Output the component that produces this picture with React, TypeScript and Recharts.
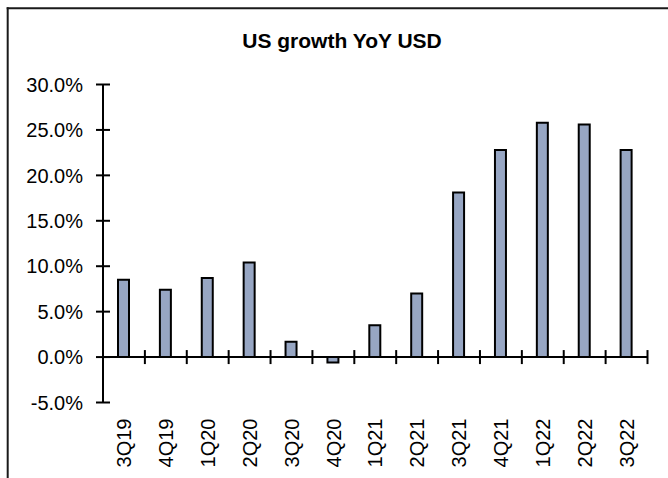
import React from 'react';
import { BarChart, Bar, XAxis, YAxis, ReferenceLine } from 'recharts';

const categories = ['3Q19', '4Q19', '1Q20', '2Q20', '3Q20', '4Q20', '1Q21', '2Q21', '3Q21', '4Q21', '1Q22', '2Q22', '3Q22'];
const growth = [8.5, 7.4, 8.7, 10.4, 1.7, -0.6, 3.5, 7.0, 18.1, 22.8, 25.8, 25.6, 22.8];
const yTicks = [-5, 0, 5, 10, 15, 20, 25, 30];
const title = 'US growth YoY USD';

const data = categories.map((q, i) => ({ q, v: growth[i] }));

const FONT = '"Liberation Sans", Arial, sans-serif';
const TICK = 7;
const MARGIN = 13;

const YTick = (props: any) => {
  const { x, y, payload } = props;
  const axisX = x + TICK + MARGIN;
  return (
    <g>
      <line x1={axisX - TICK} x2={axisX + TICK} y1={y} y2={y} stroke="#000" strokeWidth={2} />
      <text x={x} y={y} dy="0.36em" textAnchor="end" fontSize={20} fontFamily={FONT} fill="#000">
        {payload.value.toFixed(1) + '%'}
      </text>
    </g>
  );
};

const XTick = (props: any) => {
  const { x, y, payload } = props;
  return (
    <text
      x={x}
      y={y}
      dy="0.36em"
      transform={`rotate(-90, ${x}, ${y})`}
      textAnchor="end"
      fontSize={20}
      fontFamily={FONT}
      fill="#000"
    >
      {payload.value}
    </text>
  );
};

const ZeroAxis = (props: any) => {
  const { x1, x2, y1 } = props;
  const n = categories.length;
  const step = (x2 - x1) / n;
  const ticks = [];
  for (let i = 0; i <= n; i++) {
    const tx = x1 + i * step;
    ticks.push(<line key={i} x1={tx} x2={tx} y1={y1 - TICK} y2={y1 + TICK} stroke="#000" strokeWidth={2} />);
  }
  return (
    <g>
      <line x1={x1} x2={x2} y1={y1} y2={y1} stroke="#000" strokeWidth={2} />
      {ticks}
    </g>
  );
};

export default function App() {
  return (
    <div style={{ position: 'fixed', left: 0, top: 0, width: 668, height: 478, overflow: 'hidden', background: '#fff' }}>
      <BarChart
        width={668}
        height={478}
        data={data}
        margin={{ top: 84.5, right: 20.5, bottom: 0, left: 0 }}
        barCategoryGap="34%"
      >
        <XAxis
          dataKey="q"
          axisLine={false}
          tickLine={false}
          height={75.5}
          tickSize={0}
          tickMargin={16}
          interval={0}
          tick={<XTick />}
        />
        <YAxis
          width={103}
          domain={[-5, 30]}
          ticks={yTicks}
          interval={0}
          allowDataOverflow
          tickSize={TICK}
          tickMargin={MARGIN}
          tickLine={false}
          axisLine={{ stroke: '#000', strokeWidth: 2 }}
          tick={<YTick />}
        />
        <Bar dataKey="v" fill="#97a6c3" stroke="#000" strokeWidth={2} barSize={11} isAnimationActive={false} />
        <ReferenceLine y={0} shape={<ZeroAxis />} ifOverflow="visible" />
      </BarChart>
      <svg width={668} height={478} style={{ position: 'absolute', left: 0, top: 0, pointerEvents: 'none' }}>
        <text x={342} y={48.3} textAnchor="middle" fontSize={21} fontWeight="bold" fontFamily={FONT} fill="#000">
          {title}
        </text>
        <line x1={7.7} x2={7.7} y1={7.3} y2={478} stroke="#1a1a1a" strokeWidth={2} />
        <line x1={6.7} x2={668} y1={8.3} y2={8.3} stroke="#1a1a1a" strokeWidth={2} />
      </svg>
    </div>
  );
}
